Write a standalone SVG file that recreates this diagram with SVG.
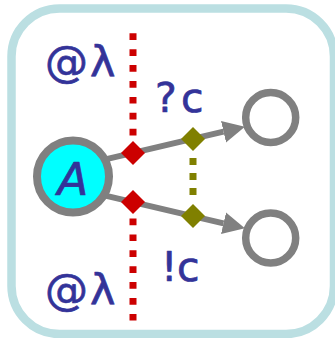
<svg xmlns="http://www.w3.org/2000/svg" width="335" height="338" viewBox="0 0 335 338">
  <style>
    .lbl { font-family: "DejaVu Sans", "Liberation Sans", sans-serif; fill: #333399; stroke: #333399; stroke-width: 0.7; stroke-linejoin: round; }
    .edge { stroke: #808080; stroke-width: 6; fill: none; }
    .ring { stroke: #808080; stroke-width: 7.5; fill: #ffffff; }
  </style>
  <defs>
    <marker id="arrow" markerUnits="userSpaceOnUse" markerWidth="24" markerHeight="24" viewBox="0 0 24 24" refX="0" refY="12" orient="auto">
      <path d="M0,1 L22,12 L0,23 z" fill="#808080"/>
    </marker>
  </defs>
  <rect x="11.5" y="8.5" width="322.5" height="325.5" rx="48" ry="48" fill="#ffffff" stroke="#bbdfe2" stroke-width="8.5"/>
  <g id="connectors">
    <line class="edge" x1="100" y1="160.7" x2="223.5" y2="131.7" marker-end="url(#arrow)"/>
    <line class="edge" x1="100" y1="194.3" x2="223.5" y2="223.3" marker-end="url(#arrow)"/>
    <line x1="133" y1="33.3" x2="133" y2="136" stroke="#cc0000" stroke-width="7" stroke-dasharray="6.7 9.2"/>
    <line x1="133" y1="218.5" x2="133" y2="321" stroke="#cc0000" stroke-width="7" stroke-dasharray="6.7 9.2"/>
    <line x1="193" y1="158" x2="193" y2="196" stroke="#808000" stroke-width="7" stroke-dasharray="7 8"/>
    <rect x="124.5" y="144.5" width="17" height="17" transform="rotate(45 133 153)" fill="#cc0000"/>
    <rect x="124.5" y="193.5" width="17" height="17" transform="rotate(45 133 202)" fill="#cc0000"/>
    <rect x="184.5" y="130.5" width="17" height="17" transform="rotate(45 193 139)" fill="#808000"/>
    <rect x="184.5" y="207.5" width="17" height="17" transform="rotate(45 193 216)" fill="#808000"/>
  </g>
  <g id="nodeA">
    <circle cx="73" cy="176.5" r="36" fill="#00ffff" stroke="#808080" stroke-width="8"/>
    <text class="lbl" x="73" y="195" font-size="45" font-style="italic" text-anchor="middle">A</text>
  </g>
  <g id="nodeTop">
    <circle class="ring" cx="270.7" cy="117.5" r="25"/>
  </g>
  <g id="nodeBottom">
    <circle class="ring" cx="270.7" cy="238" r="25"/>
  </g>
  <g id="labels">
    <text class="lbl" x="45" y="77" font-size="43">@<tspan x="90">λ</tspan></text>
    <text class="lbl" x="45" y="305" font-size="43">@<tspan x="90">λ</tspan></text>
    <text class="lbl" x="155" y="112" font-size="41">?<tspan x="181">c</tspan></text>
    <text class="lbl" x="161" y="281" font-size="41">!<tspan x="177">c</tspan></text>
  </g>
</svg>
